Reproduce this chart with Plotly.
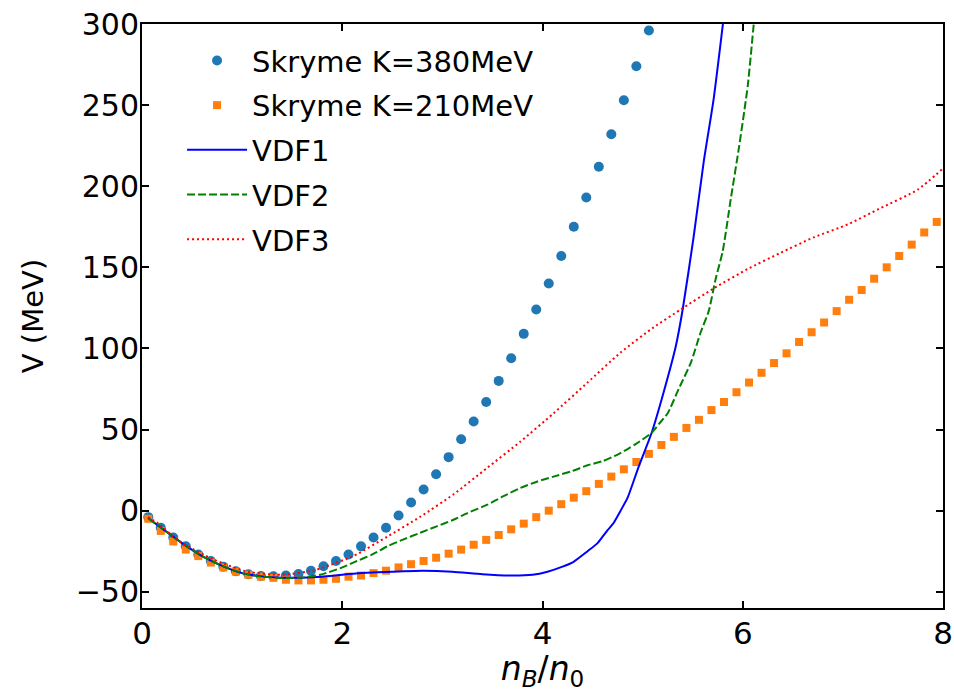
import plotly.graph_objects as go

# density grid of the Skyrme points (n_B / n_0)
nB_skyrme = [0.0625, 0.1875, 0.3125, 0.4375, 0.5625, 0.6875, 0.8125, 0.9375,
             1.0625, 1.1875, 1.3125, 1.4375, 1.5625, 1.6875, 1.8125, 1.9375,
             2.0625, 2.1875, 2.3125, 2.4375, 2.5625, 2.6875, 2.8125, 2.9375,
             3.0625, 3.1875, 3.3125, 3.4375, 3.5625, 3.6875, 3.8125, 3.9375,
             4.0625, 4.1875, 4.3125, 4.4375, 4.5625, 4.6875, 4.8125, 4.9375,
             5.0625, 5.1875, 5.3125, 5.4375, 5.5625, 5.6875, 5.8125, 5.9375,
             6.0625, 6.1875, 6.3125, 6.4375, 6.5625, 6.6875, 6.8125, 6.9375,
             7.0625, 7.1875, 7.3125, 7.4375, 7.5625, 7.6875, 7.8125, 7.9375]

V_K380 = [-4, -10.5, -16.5, -22, -27, -31, -34.5, -37.3, -39.2, -40.3, -40.5,
          -40, -39, -37, -34.3, -31, -27, -22, -16.5, -10.5, -3, 5, 13, 22.5,
          33, 44, 55, 67, 80, 94, 109, 124, 140, 157, 175, 193, 212, 232, 253,
          274, 296]

V_K210 = [-5, -12.5, -19, -24, -28, -32, -35, -37.6, -39.5, -40.7, -41.4, -42.6,
          -43, -43, -42.6, -42, -40.7, -40, -38.5, -37, -35, -33, -31, -29,
          -26.5, -24, -21, -18, -15, -11.5, -8, -4, 0, 4, 8, 12, 16.5, 21,
          25.5, 30, 35, 40.5, 45.5, 51, 56, 62, 67, 73, 79, 85, 91, 97, 104,
          110, 116, 123, 130, 136, 143, 150, 157, 164, 171.5, 178]

nB_vdf1 = [0.06, 0.2, 0.4, 0.6, 0.8, 1.0, 1.2, 1.4, 1.6, 1.8, 2.0, 2.2, 2.5, 2.8,
           3.1, 3.4, 3.7, 3.9, 4.05, 4.2, 4.31, 4.45, 4.55, 4.65, 4.71, 4.78,
           4.85, 4.96, 5.09, 5.21, 5.33, 5.40, 5.51, 5.61, 5.71, 5.80, 5.86]
V_vdf1 = [-4.5, -11, -20, -28, -34, -38.5, -40.5, -41.3, -41.3, -40.7, -39.5,
          -38.5, -37.6, -37, -37.6, -39.2, -40, -39.5, -37.6, -34.5, -31.5, -25,
          -20, -12, -7.6, 0, 8, 27, 48, 73, 101, 124, 169, 215, 254, 299, 330]

nB_vdf2 = [0.06, 0.2, 0.4, 0.6, 0.8, 1.0, 1.2, 1.4, 1.6, 1.78, 2.0, 2.11, 2.3,
           2.45, 2.6, 2.78, 2.95, 3.11, 3.25, 3.45, 3.6, 3.78, 3.95, 4.11, 4.3,
           4.45, 4.6, 4.75, 4.85, 4.93, 5.09, 5.17, 5.25, 5.36, 5.48, 5.58,
           5.66, 5.73, 5.80, 5.88, 5.96, 6.05, 6.11, 6.15]
V_vdf2 = [-4.5, -11, -20, -28, -34, -38.5, -40.7, -41.5, -41.2, -39.5, -35,
          -32, -27, -22, -18, -13.6, -9.5, -5.6, -1.5, 3.7, 8.6, 14, 18, 21,
          24.5, 28, 30.5, 34.6, 38, 41, 48, 54, 60, 75, 91, 110, 123, 143, 160,
          192, 223, 262, 300, 325]

nB_vdf3 = [0.06, 0.15, 0.38, 0.71, 1.05, 1.38, 1.71, 1.81, 2.11, 2.45, 2.78,
           3.11, 3.45, 3.78, 4.11, 4.45, 4.78, 5.11, 5.38, 5.71, 6.05, 6.38,
           6.71, 7.05, 7.36, 7.75, 8.0]
V_vdf3 = [-4, -7.4, -19, -30, -37.6, -39.5, -37, -35, -28, -16, -3.7, 10,
          26.5, 42.6, 60, 79, 97.5, 113, 124, 137, 149, 159, 168.5, 176.5,
          186, 198, 211]

x_ticks = [0, 2, 4, 6, 8]
y_ticks = [-50, 0, 50, 100, 150, 200, 250, 300]

FONT = "DejaVu Sans"

fig = go.Figure()
fig.add_trace(go.Scatter(
    x=nB_skyrme[:len(V_K380)], y=V_K380, mode="markers",
    name="Skryme K=380MeV", legendgroup="a",
    marker=dict(symbol="circle", size=10, color="#1f77b4"),
))
fig.add_trace(go.Scatter(
    x=nB_skyrme, y=V_K210, mode="markers",
    name="Skryme K=210MeV", legendgroup="b",
    marker=dict(symbol="square", size=8, color="#ff7f0e"),
))
fig.add_trace(go.Scatter(
    x=nB_vdf1, y=V_vdf1, mode="lines", name="VDF1", legendgroup="c",
    line=dict(color="#0000ff", width=2, shape="spline", smoothing=0.6),
))
fig.add_trace(go.Scatter(
    x=nB_vdf2, y=V_vdf2, mode="lines", name="VDF2", legendgroup="d",
    line=dict(color="#008000", width=2, dash="8px,3px", shape="spline", smoothing=0.6),
))
fig.add_trace(go.Scatter(
    x=nB_vdf3, y=V_vdf3, mode="lines", name="VDF3", legendgroup="e",
    line=dict(color="#ff0000", width=2, dash="2px,3px", shape="spline", smoothing=0.6),
))

axis_common = dict(
    showline=True, linecolor="black", linewidth=2, mirror="ticks",
    ticks="inside", ticklen=7, tickwidth=1.5, tickcolor="black",
    showgrid=False, zeroline=False, automargin=False,
)

fig.update_xaxes(
    range=[0, 8], tickvals=x_ticks, ticktext=[str(v) for v in x_ticks],
    tickfont=dict(family=FONT, size=31, color="black"),
    ticklabelstandoff=-3,
    title=dict(text="<i>n</i><sub><i>B</i></sub>/<i>n</i><sub>0</sub>",
               font=dict(family=FONT, size=33, color="black"), standoff=4),
    **axis_common,
)
fig.update_yaxes(
    range=[-60, 300], tickvals=y_ticks,
    ticktext=[("\u2212" + str(-v)) if v < 0 else str(v) for v in y_ticks],
    tickfont=dict(family=FONT, size=30, color="black"),
    ticklabelstandoff=-5,
    title=dict(text="V (MeV)", font=dict(family=FONT, size=29, color="black"),
               standoff=24),
    **axis_common,
)

fig.update_layout(
    width=954, height=692,
    margin=dict(l=142, r=11, t=24, b=84),
    paper_bgcolor="white", plot_bgcolor="white",
    showlegend=True,
    legend=dict(
        x=0.05, y=0.981, xanchor="left", yanchor="top",
        bgcolor="rgba(255,255,255,0)", borderwidth=0,
        font=dict(family=FONT, size=29, color="black"),
        itemwidth=60, tracegroupgap=4,
    ),
)

fig.write_html("out.html")
